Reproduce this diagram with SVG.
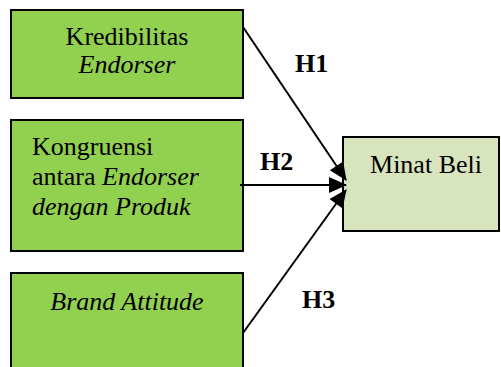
<svg xmlns="http://www.w3.org/2000/svg" width="501" height="367" viewBox="0 0 501 367">
<style>
.box{fill:#92D050;stroke:#000;stroke-width:2}
.dep{fill:#D7E4BD;stroke:#000;stroke-width:2}
text{font-family:"Liberation Serif","Times New Roman",serif;font-size:26px;fill:#000}
.it{font-style:italic}
.h{font-weight:bold}
.con{stroke:#000;stroke-width:2;fill:none;marker-end:url(#ah)}
</style>
<defs>
<marker id="ah" viewBox="0 0 18 16" refX="17" refY="8" markerWidth="18" markerHeight="16" orient="auto" markerUnits="userSpaceOnUse" overflow="visible">
<path d="M0,0 L18,8 L0,16 z" fill="#000"/>
</marker>
</defs>
<rect width="501" height="367" fill="#fff"/>
<g id="node-kredibilitas">
<rect class="box" x="11" y="10" width="232" height="88"/>
<text x="127" y="45" text-anchor="middle">Kredibilitas</text>
<text class="it" x="127" y="73" text-anchor="middle">Endorser</text>
</g>
<g id="node-kongruensi">
<rect class="box" x="11" y="120" width="232" height="131"/>
<text x="32" y="155">Kongruensi</text>
<text x="32" y="185">antara <tspan class="it">Endorser</tspan></text>
<text class="it" x="32" y="215">dengan Produk</text>
</g>
<g id="node-brand">
<rect class="box" x="11" y="273" width="232" height="110"/>
<text class="it" x="127" y="310" text-anchor="middle">Brand Attitude</text>
</g>
<g id="node-minat">
<rect class="dep" x="343" y="137" width="156" height="94"/>
<text x="426" y="173" text-anchor="middle">Minat Beli</text>
</g>
<g id="connectors">
<line class="con" x1="243" y1="27" x2="346" y2="180"/>
<line class="con" x1="240" y1="185" x2="346" y2="185"/>
<line class="con" x1="243" y1="333" x2="346" y2="190"/>
</g>
<g id="labels">
<text class="h" x="295" y="72">H1</text>
<text class="h" x="260" y="170">H2</text>
<text class="h" x="302" y="308">H3</text>
</g>
</svg>
